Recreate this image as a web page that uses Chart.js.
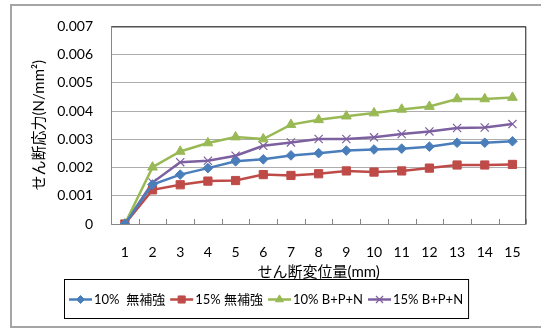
<!DOCTYPE html>
<html>
<head>
<meta charset="utf-8">
<script src="https://cdn.jsdelivr.net/npm/chart.js@4/dist/chart.umd.min.js"></script>
<style>
  html, body { margin: 0; padding: 0; background: #fff; }
  #wrap { width: 541px; height: 329px; }
</style>
</head>
<body>
<div id="wrap"><canvas id="c" width="541" height="329"></canvas></div>
<script>
// Shear displacement steps (mm)
const displacement = ['1','2','3','4','5','6','7','8','9','10','11','12','13','14','15'];

// Shear stress (N/mm²) per series
const plain10 = [0, 0.00140, 0.00175, 0.00198, 0.00222, 0.00229, 0.00243, 0.00251, 0.00260, 0.00264, 0.00267, 0.00274, 0.00288, 0.00288, 0.00293];
const plain15 = [0, 0.00121, 0.00139, 0.00152, 0.00154, 0.00175, 0.00172, 0.00178, 0.00188, 0.00184, 0.00188, 0.00198, 0.00209, 0.00209, 0.00211];
const bpn10   = [0, 0.00201, 0.00257, 0.00287, 0.00308, 0.00301, 0.00352, 0.00369, 0.00382, 0.00393, 0.00406, 0.00416, 0.00443, 0.00443, 0.00448];
const bpn15   = [0, 0.00147, 0.00219, 0.00224, 0.00242, 0.00277, 0.00289, 0.00301, 0.00301, 0.00307, 0.00319, 0.00328, 0.00340, 0.00342, 0.00354];

const seriesNames = ['10%  無補強', '15% 無補強', '10% B+P+N', '15% B+P+N'];
const yTickLabels = ['0', '0.001', '0.002', '0.003', '0.004', '0.005', '0.006', '0.007'];

const FONT = "Lato, 'Noto Sans CJK JP', sans-serif";

function series(label, data, color, style, radius, legendRadius, extra) {
  return Object.assign({
    label, data,
    borderColor: color,
    backgroundColor: color,
    pointBackgroundColor: color,
    pointBorderColor: color,
    borderWidth: 2.5,
    pointStyle: style,
    pointRadius: radius,
    pointBorderWidth: 1,
    legendRadius,
    tension: 0
  }, extra || {});
}

const datasets = [
  series(seriesNames[0], plain10, '#4A7EBB', 'rectRot', 4.8, 4),
  series(seriesNames[1], plain15, '#BE4B48', 'rect', 5.8, 5),
  series(seriesNames[2], bpn10,   '#98B954', 'triangle', 5.6, 4.6),
  series(seriesNames[3], bpn15,   '#7D60A0', 'crossRot', 5.8, 5, { pointBorderWidth: 1.2 })
];

// White page plus the thin gray frame around the whole figure
const framePlugin = {
  id: 'frame',
  beforeDraw(chart) {
    const ctx = chart.ctx;
    ctx.save();
    ctx.fillStyle = '#fff';
    ctx.fillRect(0, 0, chart.width, chart.height);
    ctx.strokeStyle = '#A5A5A5';
    ctx.lineWidth = 2;
    ctx.strokeRect(11, 5, chart.width + 20, 322);
    ctx.restore();
  }
};

// Plot-area outline and inward category tick marks on the x axis
const plotPlugin = {
  id: 'plotOutline',
  beforeDatasetsDraw(chart) {
    const { ctx, chartArea: a } = chart;
    const xs = chart.scales.x;
    ctx.save();
    ctx.lineWidth = 1;
    ctx.strokeStyle = '#1a1a1a';
    ctx.beginPath();
    ctx.moveTo(a.left, a.top + 0.5);
    ctx.lineTo(a.right - 0.5, a.top + 0.5);
    ctx.lineTo(a.right - 0.5, a.bottom);
    ctx.stroke();
    ctx.strokeStyle = '#868686';
    ctx.beginPath();
    ctx.moveTo(a.left + 0.5, a.top);
    ctx.lineTo(a.left + 0.5, a.bottom + 0.5);
    ctx.lineTo(a.right, a.bottom + 0.5);
    ctx.stroke();
    // tick marks between categories
    ctx.beginPath();
    const n = displacement.length;
    for (let i = 0; i <= n; i++) {
      let px;
      if (i === 0) px = a.left;
      else if (i === n) px = a.right;
      else px = (xs.getPixelForValue(i - 1) + xs.getPixelForValue(i)) / 2;
      px = Math.round(px) + 0.5;
      ctx.moveTo(px, a.bottom);
      ctx.lineTo(px, a.bottom - 5);
    }
    ctx.stroke();
    ctx.restore();
  }
};

// Boxed legend with a line-and-marker sample per series
const legendPlugin = {
  id: 'boxLegend',
  afterDraw(chart) {
    const ctx = chart.ctx;
    ctx.save();
    ctx.font = '13px ' + FONT;
    const sample = 23, gap = 2, itemGap = 5, pad = 5;
    const items = chart.data.datasets.map(ds => ({ ds, w: ctx.measureText(ds.label).width }));
    let total = pad * 2;
    items.forEach((it, i) => { total += sample + gap + it.w + (i < items.length - 1 ? itemGap : 0); });
    const boxTop = 279, boxH = 39;
    const boxLeft = Math.round((chart.chartArea.left + chart.chartArea.right) / 2 - 53 - total / 2);
    ctx.strokeStyle = '#000';
    ctx.lineWidth = 1;
    ctx.strokeRect(boxLeft + 0.5, boxTop + 0.5, total, boxH);
    const cy = boxTop + boxH / 2 + 1;
    let x = boxLeft + pad;
    items.forEach(({ ds, w }) => {
      ctx.strokeStyle = ds.borderColor;
      ctx.lineWidth = 2.5;
      ctx.beginPath();
      ctx.moveTo(x, cy);
      ctx.lineTo(x + sample, cy);
      ctx.stroke();
      ctx.fillStyle = ds.pointBackgroundColor;
      ctx.strokeStyle = ds.pointBorderColor;
      ctx.lineWidth = ds.pointBorderWidth;
      Chart.helpers.drawPoint(ctx, {
        pointStyle: ds.pointStyle, rotation: 0,
        radius: ds.legendRadius, borderWidth: ds.pointBorderWidth
      }, x + sample / 2, cy);
      ctx.fillStyle = '#000';
      ctx.textBaseline = 'middle';
      ctx.textAlign = 'left';
      ctx.fillText(ds.label, x + sample + gap, cy);
      x += sample + gap + w + itemGap;
    });
    ctx.restore();
  }
};

new Chart(document.getElementById('c'), {
  type: 'line',
  data: { labels: displacement, datasets },
  options: {
    responsive: false,
    animation: false,
    devicePixelRatio: 1,
    layout: { padding: { left: 0, right: 13, top: 25, bottom: 48 } },
    plugins: {
      legend: { display: false },
      tooltip: { enabled: false }
    },
    scales: {
      x: {
        type: 'category',
        offset: true,
        grid: { display: false, drawTicks: false },
        border: { display: false },
        ticks: {
          autoSkip: false, maxRotation: 0, padding: 20,
          color: '#000', font: { family: FONT, size: 14 }
        },
        title: {
          display: true, text: 'せん断変位量(mm)', color: '#000',
          font: { family: FONT, size: 15 }, padding: { top: 0, bottom: 0 }
        },
        afterFit(scale) { scale.height = 57; }
      },
      y: {
        min: 0, max: 0.007,
        grid: { color: '#ADADAD', lineWidth: 1, drawTicks: false },
        border: { display: false },
        ticks: {
          stepSize: 0.001, padding: 18, color: '#000',
          font: { family: FONT, size: 14 },
          callback: (v, i) => yTickLabels[i]
        },
        title: {
          display: true, text: 'せん断応力(N/mm²)', color: '#000',
          font: { family: FONT, size: 15 }, padding: { top: 30, bottom: 0 }
        },
        afterFit(scale) { scale.width = 111; }
      }
    }
  },
  plugins: [framePlugin, plotPlugin, legendPlugin]
});
</script>
</body>
</html>
